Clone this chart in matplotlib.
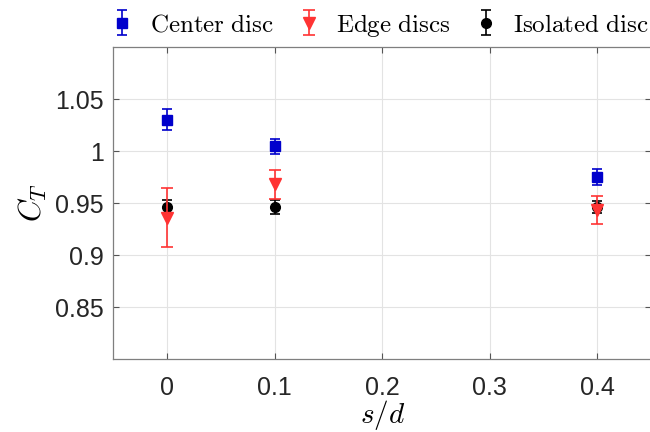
import matplotlib
matplotlib.use("Agg")
import matplotlib.pyplot as plt

plt.rcParams["mathtext.fontset"] = "cm"
plt.rcParams["font.family"] = ["Liberation Sans", "DejaVu Sans"]

s_d = [0.0, 0.1, 0.4]

center_ct = [1.030, 1.0045, 0.975]
center_err = [0.0100, 0.0070, 0.0080]

edge_ct = [0.936, 0.968, 0.9435]
edge_err = [0.028, 0.014, 0.0135]

isolated_ct = [0.9465, 0.946, 0.946]
isolated_err = [0.0060, 0.0070, 0.0060]

fig = plt.figure(figsize=(6.5, 4.32), dpi=100)
ax = fig.add_axes([0.1745, 0.169, 0.827, 0.722])

blue = "#0000CC"
red = "#FF3333"

h_c = ax.errorbar(s_d, center_ct, yerr=center_err, fmt="s", color=blue, ms=6.5,
                  elinewidth=1.2, capsize=3.3, capthick=1.2, zorder=3)
h_i = ax.errorbar(s_d, isolated_ct, yerr=isolated_err, fmt="o", color="black", ms=7,
                  elinewidth=1.2, capsize=3.3, capthick=1.2, zorder=3)
h_e = ax.errorbar(s_d, edge_ct, yerr=edge_err, fmt="v", color=red, ms=8,
                  elinewidth=1.2, capsize=4, capthick=1.2, zorder=4)

ax.set_xlim(-0.05, 0.45)
ax.set_ylim(0.8, 1.1)
ax.set_xticks([0, 0.1, 0.2, 0.3, 0.4])
ax.set_xticklabels(["0", "0.1", "0.2", "0.3", "0.4"])
ax.set_yticks([0.85, 0.9, 0.95, 1.0, 1.05])
ax.set_yticklabels(["0.85", "0.9", "0.95", "1", "1.05"])

ax.grid(True, color="#e3e3e3", linewidth=0.8)
ax.set_axisbelow(True)
for sp in ax.spines.values():
    sp.set_color("#7f7f7f")
    sp.set_linewidth(0.9)
ax.tick_params(direction="in", length=4, width=0.8, color="#555555",
               labelsize=18, labelcolor="#262626", top=True, right=True)
ax.tick_params(axis="x", pad=12)
ax.tick_params(axis="y", pad=7)

ax.set_xlabel(r"$s/d$", fontsize=21, labelpad=-1)
ax.set_ylabel(r"$C_T$", fontsize=22, labelpad=4)

fig.legend([h_c, h_e, h_i], [r"$\mathrm{Center\ disc}$", r"$\mathrm{Edge\ discs}$",
                             r"$\mathrm{Isolated\ disc}$"],
           loc="center", bbox_to_anchor=(0.586, 0.942), ncol=3, frameon=False,
           fontsize=18, handlelength=0.8, handletextpad=0.7, columnspacing=1.0)

fig.savefig("out.png", dpi=100)
